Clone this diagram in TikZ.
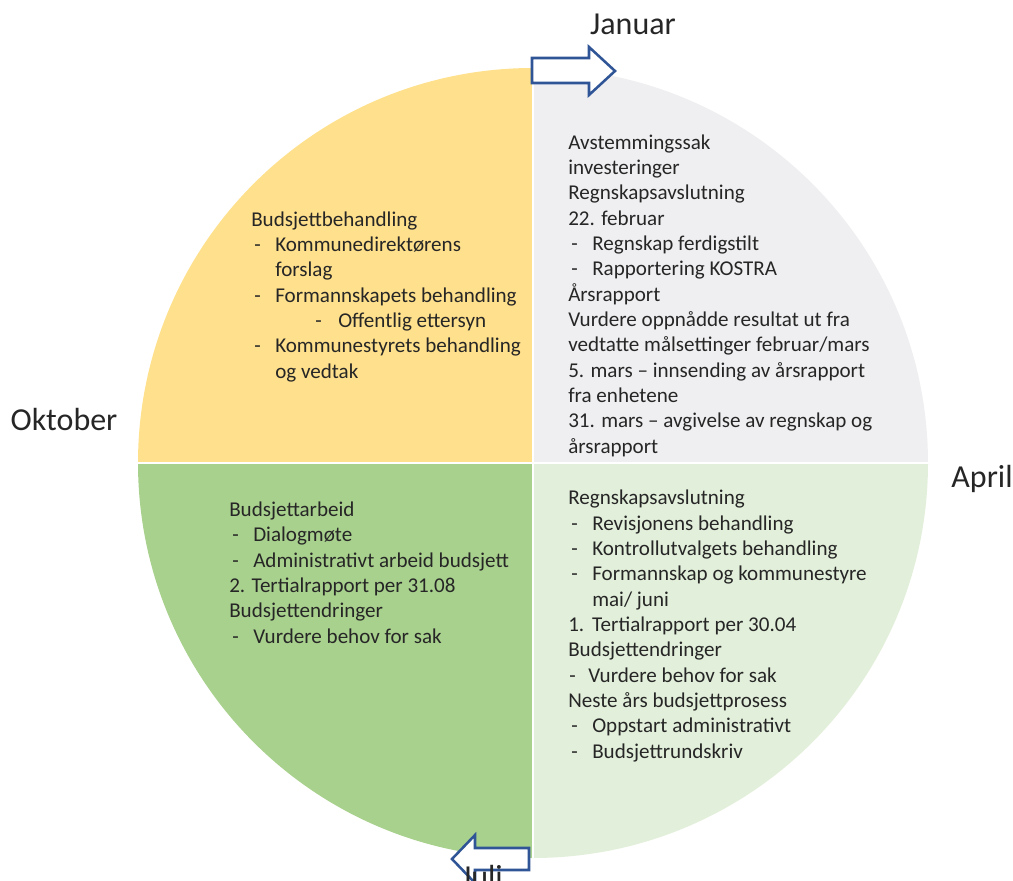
\documentclass[tikz,border=0pt]{standalone}
\usepackage{fontspec}
\setmainfont{Carlito}
\usepackage{tikz}
\definecolor{quadyellow}{HTML}{FFE08C}
\definecolor{quadgray}{HTML}{EFEFF1}
\definecolor{quadgreen}{HTML}{A9D18E}
\definecolor{quadlight}{HTML}{E2EFDA}
\definecolor{arrowblue}{HTML}{2F5597}
\definecolor{textdark}{HTML}{262626}
\newcommand{\dashline}[1]{\hspace*{2.25pt}\makebox[15.75pt][l]{-}#1}
\newcommand{\subdashline}[1]{\hspace*{48pt}\makebox[17.25pt][l]{-}#1}
\newcommand{\contline}[1]{\hspace*{18pt}#1}

\begin{document}
\begin{tikzpicture}[x=0.75pt,y=-0.75pt]
        \tikzset{
        quad text/.style={anchor=base west,align=left,inner sep=0,text=textdark,font=\fontsize{15.8}{19}\selectfont},
        month/.style={anchor=base,inner sep=0,text=textdark,font=\fontsize{24}{28}\selectfont},
        month arrow/.style={draw=arrowblue,fill=white,line width=1.9pt,line join=miter}
        }
        \useasboundingbox (0,0) rectangle (1013,881);
        \coordinate (c) at (533,463);
        % the four quarters of the year
        \fill[quadyellow] (c) -- ++(-395,0) arc[start angle=180,end angle=270,radius=395] -- cycle;
        \fill[quadgray] (c) -- ++(0,-395) arc[start angle=270,end angle=360,radius=395] -- cycle;
        \fill[quadlight] (c) -- ++(395,0) arc[start angle=0,end angle=90,radius=395] -- cycle;
        \fill[quadgreen] (c) -- ++(0,395) arc[start angle=90,end angle=180,radius=395] -- cycle;
        \draw[white,line width=2.2pt] (130,463) -- (940,463);
        \draw[white,line width=1pt] (533,60) -- (533,866);

        % arrows
        \draw[month arrow] (532,58) -- (589,58) -- (589,47) -- (615,71) -- (589,95) -- (589,83) -- (532,83) -- cycle;
        \draw[month arrow] (529,848) -- (475,848) -- (475,835) -- (452,859) -- (475,883) -- (475,870) -- (529,870) -- cycle;

        \node[month] (januar) at (633,35) {Januar};
        \node[month] (oktober) at (64,430) {Oktober};
        \node[month] (april) at (982,487) {April};
        \node[month] (juli) at (482,887) {Juli};

        % text anchored at the baseline of the last line
        \node[quad text] (budsjettbeh) at (251,378) {Budsjettbehandling\\
            \dashline{Kommunedirektørens}\\
            \contline{forslag}\\
            \dashline{Formannskapets behandling}\\
            \subdashline{Offentlig ettersyn}\\
            \dashline{Kommunestyrets behandling}\\
            \contline{og vedtak}};
        \node[quad text] (regnskap) at (568,453) {Avstemmingssak\\
            investeringer\\
            Regnskapsavslutning\\
            22. februar\\
            \dashline{Regnskap ferdigstilt}\\
            \dashline{Rapportering KOSTRA}\\
            Årsrapport\\
            Vurdere oppnådde resultat ut fra\\
            vedtatte målsettinger februar/mars\\
            5. mars – innsending av årsrapport\\
            fra enhetene\\
            31. mars – avgivelse av regnskap og\\
            årsrapport};
        \node[quad text] (revisjon) at (568,758) {Regnskapsavslutning\\
            \dashline{Revisjonens behandling}\\
            \dashline{Kontrollutvalgets behandling}\\
            \dashline{Formannskap og kommunestyre}\\
            \contline{mai/ juni}\\
            \makebox[18pt][l]{1.}Tertialrapport per 30.04\\
            Budsjettendringer\\
            \hspace*{0.75pt}\makebox[14.25pt][l]{-}Vurdere behov for sak\\
            Neste års budsjettprosess\\
            \dashline{Oppstart administrativt}\\
            \dashline{Budsjettrundskriv}};
        \node[quad text] (budsjettarb) at (229,643) {Budsjettarbeid\\
            \dashline{Dialogmøte}\\
            \dashline{Administrativt arbeid budsjett}\\
            2. Tertialrapport per 31.08\\
            Budsjettendringer\\
            \dashline{Vurdere behov for sak}};
\end{tikzpicture}
\end{document}
